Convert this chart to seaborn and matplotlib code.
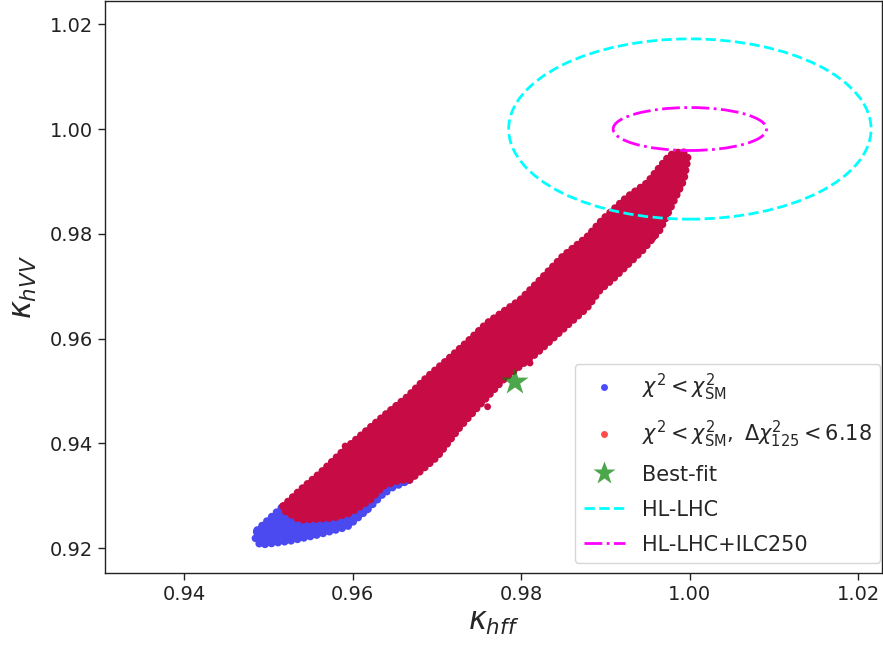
import matplotlib
matplotlib.use("Agg")
import matplotlib.pyplot as plt
from matplotlib.lines import Line2D
from matplotlib.patches import Ellipse, Polygon
import seaborn as sns

sns.set_style("ticks")
plt.rcParams["font.family"] = ["DejaVu Sans"]
plt.rcParams["mathtext.fontset"] = "dejavusans"

# Outline of the scan region (upper-left edge, running up to the tip)
upper_hff = [0.94866, 0.95020, 0.95174, 0.95376, 0.95613, 0.95933, 0.96170,
             0.96407, 0.96644, 0.96882, 0.97119, 0.97356, 0.97593, 0.97984,
             0.98186, 0.98494, 0.98779, 0.98957, 0.99253, 0.99490, 0.99644,
             0.99763, 0.99917]
upper_hvv = [0.92347, 0.92576, 0.92805, 0.93111, 0.93435, 0.93931, 0.94256,
             0.94580, 0.94885, 0.95267, 0.95592, 0.95935, 0.96298, 0.96737,
             0.97061, 0.97576, 0.97939, 0.98263, 0.98702, 0.98969, 0.99275,
             0.99504, 0.99580]

# Lower-right edge, running from the tip back down
lower_hff = [0.99977, 0.99929, 0.99787, 0.99644, 0.99443, 0.99075, 0.98933,
             0.98779, 0.98577, 0.98186, 0.97925, 0.97783, 0.97474, 0.97273,
             0.97000, 0.96680, 0.96407, 0.96170, 0.95933, 0.95577, 0.95257,
             0.94901, 0.94842]
lower_hvv = [0.99447, 0.99027, 0.98550, 0.98073, 0.97691, 0.97118, 0.96927,
             0.96584, 0.96298, 0.95725, 0.95401, 0.95210, 0.94676, 0.94313,
             0.93740, 0.93302, 0.93111, 0.92729, 0.92405, 0.92252, 0.92137,
             0.92061, 0.92195]

# Lower boundary of the Delta chi^2_125 < 6.18 subset in the low corner
cut_hff = [0.96561, 0.96360, 0.96206, 0.95968, 0.95767, 0.95376, 0.95174]
cut_hvv = [0.93302, 0.93187, 0.92920, 0.92672, 0.92576, 0.92538, 0.92729]

# Scattered points lying outside the dense band
stray_hff = [0.98103, 0.98458, 0.98482, 0.99562, 0.99609, 0.95909, 0.97600]
stray_hvv = [0.95534, 0.96241, 0.96489, 0.97920, 0.98359, 0.93950, 0.94700]
stray_blue_hff = [0.96407, 0.96170, 0.95850, 0.95500, 0.95100, 0.96500]
stray_blue_hvv = [0.93073, 0.92729, 0.92450, 0.92300, 0.92200, 0.93250]

best_fit = (0.97925, 0.95172)

# Projected precisions around the SM point (centre, half-widths)
sm_point = (1.0, 1.0)
hllhc_half = (0.0215, 0.0172)
ilc_half = (0.0091, 0.0041)

blue = "#4a4af0"
crimson = "#c70c45"
dotted_edge = dict(linestyle=(0, (0.01, 0.85)), capstyle="round", joinstyle="round")

fig = plt.figure(figsize=(8.83, 6.51), dpi=100)
ax = fig.add_axes([105 / 883, 78 / 651, 777 / 883, 572 / 651])

# Blue region (chi^2 < chi^2_SM only) in the low corner
n_blue_up = 3
blue_x = upper_hff[:n_blue_up] + lower_hff[15:]
blue_y = upper_hvv[:n_blue_up] + lower_hvv[15:]
ax.add_patch(Polygon(list(zip(blue_x, blue_y)), closed=True,
                     facecolor=blue, edgecolor="none", zorder=1))
ax.add_patch(Polygon(list(zip(blue_x, blue_y)), closed=True, fill=False,
                     edgecolor=blue, lw=5.5, zorder=1, **dotted_edge))
sns.scatterplot(x=stray_blue_hff, y=stray_blue_hvv, color=blue, s=24,
                edgecolor="none", ax=ax, zorder=2)

# Red region on top
red_x = upper_hff[2:] + lower_hff[:16] + cut_hff
red_y = upper_hvv[2:] + lower_hvv[:16] + cut_hvv
ax.add_patch(Polygon(list(zip(red_x, red_y)), closed=True,
                     facecolor=crimson, edgecolor="none", zorder=3))
ax.add_patch(Polygon(list(zip(red_x, red_y)), closed=True, fill=False,
                     edgecolor=crimson, lw=5.5, zorder=3, **dotted_edge))
sns.scatterplot(x=stray_hff, y=stray_hvv, color=crimson, s=24,
                edgecolor="none", ax=ax, zorder=4)

# Best-fit point
sns.scatterplot(x=[best_fit[0]], y=[best_fit[1]], marker="*", s=420,
                color="green", alpha=0.7, edgecolor="none", ax=ax, zorder=5)

# Precision contours
ax.add_patch(Ellipse(sm_point, 2 * hllhc_half[0], 2 * hllhc_half[1], fill=False,
                     edgecolor="cyan", linestyle="--", lw=2, zorder=6))
ax.add_patch(Ellipse(sm_point, 2 * ilc_half[0], 2 * ilc_half[1], fill=False,
                     edgecolor="magenta", linestyle="-.", lw=2, zorder=6))

ax.set_xlim(0.9306, 1.0228)
ax.set_ylim(0.91527, 1.02443)
ax.set_xticks([0.94, 0.96, 0.98, 1.00, 1.02])
ax.set_yticks([0.92, 0.94, 0.96, 0.98, 1.00, 1.02])
ax.set_xticklabels(["0.94", "0.96", "0.98", "1.00", "1.02"])
ax.set_yticklabels(["0.92", "0.94", "0.96", "0.98", "1.00", "1.02"])
ax.tick_params(labelsize=14, length=5, width=1, colors="#222222")
for sp in ax.spines.values():
    sp.set_color("#222222")
    sp.set_linewidth(1)
    sp.set_visible(True)

ax.set_xlabel(r"$\kappa_{hff}$", fontsize=22, labelpad=3)
ax.set_ylabel(r"$\kappa_{hVV}$", fontsize=22, labelpad=8)

handles = [
    Line2D([], [], marker="o", ls="", color="b", alpha=0.7, ms=5, mec="none"),
    Line2D([], [], marker="o", ls="", color="r", alpha=0.7, ms=5, mec="none"),
    Line2D([], [], marker="*", ls="", color="green", alpha=0.7, ms=17, mec="none"),
    Line2D([], [], ls="--", color="cyan", lw=2),
    Line2D([], [], ls="-.", color="magenta", lw=2),
]
labels = [
    r"$\chi^2 < \chi^2_{\rm SM}$",
    r"$\chi^2 < \chi^2_{\rm SM},\ \Delta\chi^2_{125} < 6.18$",
    "Best-fit",
    "HL-LHC",
    "HL-LHC+ILC250",
]
ax.legend(handles, labels, loc="lower right", fontsize=15, frameon=True,
          labelspacing=0.72, borderaxespad=0,
          bbox_to_anchor=(880 / 883, 88 / 651), bbox_transform=fig.transFigure)

fig.savefig("out.png", dpi=100)
